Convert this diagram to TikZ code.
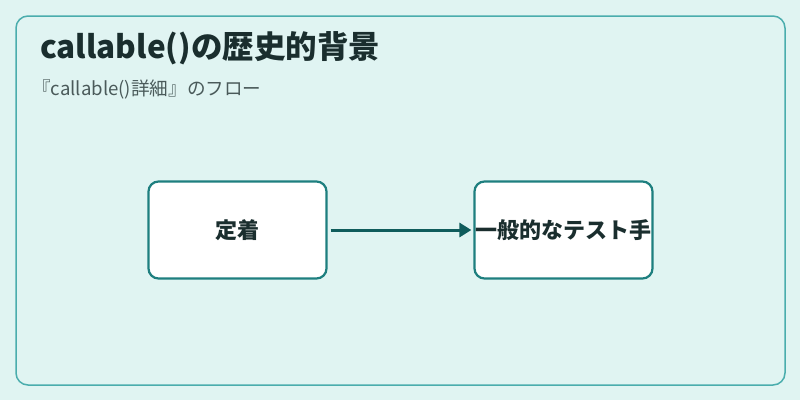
\documentclass[tikz,border=0pt]{standalone}
\usepackage{fontspec}
\setmainfont{Noto Sans CJK JP}
\usetikzlibrary{arrows.meta}
\definecolor{bgc}{HTML}{E0F4F2}
\definecolor{framec}{HTML}{4AADAD}
\definecolor{boxc}{HTML}{1E7F7F}
\definecolor{arrc}{HTML}{0F5C5C}
\definecolor{titlec}{HTML}{1A2E2E}
\definecolor{subc}{HTML}{4A5A5A}
\tikzset{
  stepbox/.style={draw=boxc, line width=2.2pt, fill=white, rounded corners=10pt, minimum width=178pt, minimum height=97pt, inner sep=0pt},
  boxtext/.style={font=\fontsize{22}{26}\selectfont\bfseries, text=titlec},
  conn/.style={draw=arrc, line width=3pt, -{Triangle[length=12pt,width=14pt]}, shorten >=2pt}
}
\begin{document}
\begin{tikzpicture}[x=1pt,y=-1pt]
\useasboundingbox (0,0) rectangle (800,400);
\fill[bgc] (0,0) rectangle (800,400);
\draw[framec, line width=1.5pt, rounded corners=12pt] (16,16) rectangle (785,385);
\node[anchor=base west, inner sep=0pt, font=\fontsize{31.5}{36}\selectfont\bfseries, text=titlec] (title) at (40,58) {callable()の歴史的背景};
\node[anchor=base west, inner sep=0pt, font=\fontsize{18.6}{22}\selectfont, text=subc] (sub) at (32,95) {『callable()詳細』のフロー};
\node[stepbox] (a) at (237.5,230) {};
\node[boxtext] (at) at (a.center) {定着};
\node[stepbox] (b) at (563.5,230) {};
\node[boxtext] (bt) at (b.center) {一般的なテスト手};
\draw[conn] (a.east) ++(3,0) coordinate (s) (s) -- (b.west);
\end{tikzpicture}
\end{document}
